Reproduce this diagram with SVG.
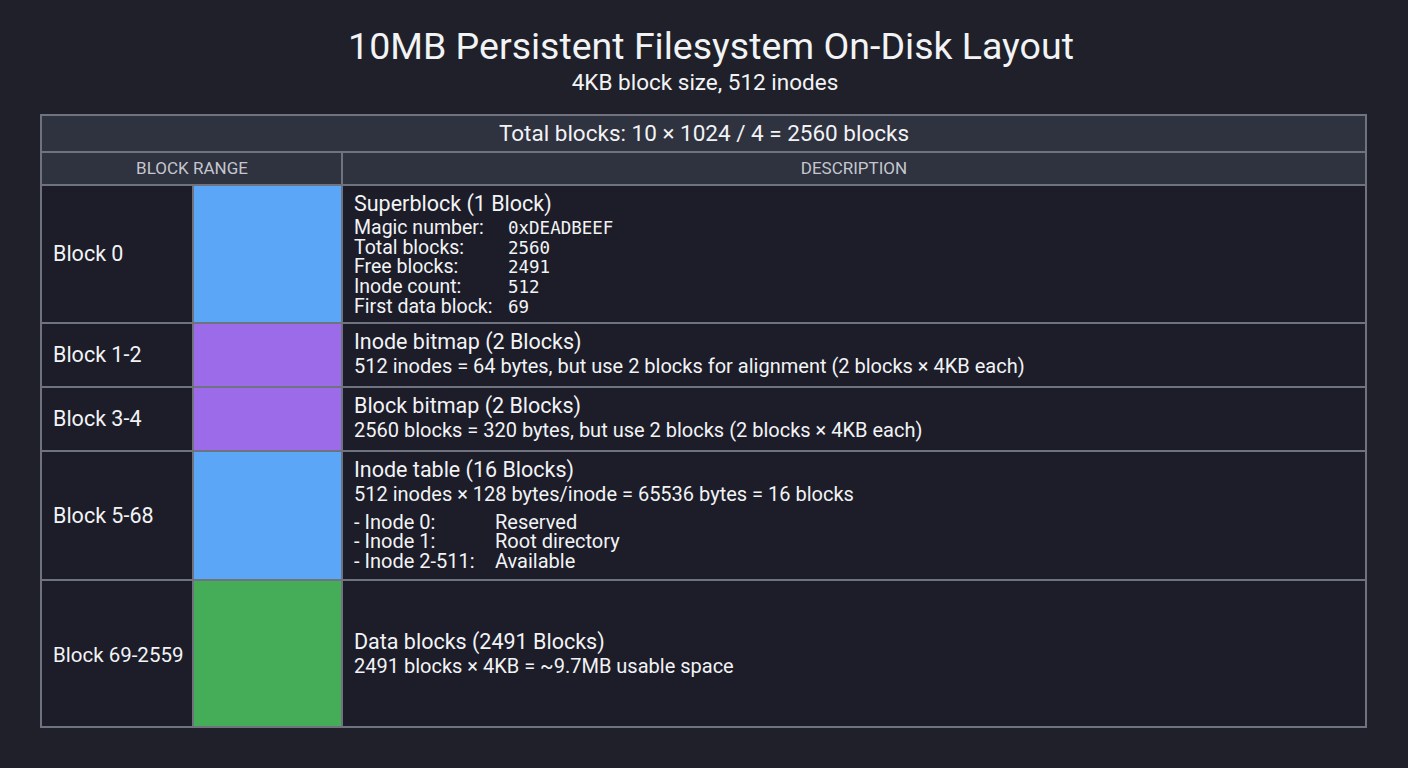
<svg xmlns="http://www.w3.org/2000/svg" width="1408" height="768" viewBox="0 0 1408 768">
<style>
text{font-family:Roboto,"Liberation Sans",sans-serif;fill:#f2f3f5}
.title{font-size:37.5px}
.sub{font-size:22.5px}
.tot{font-size:22.5px}
.hdr{font-size:17px;fill:#c4c7ce}
.big{font-size:21.5px}
.lbl{font-size:21.5px}
.txt{font-size:20px}
.fld{font-size:19.5px}
.sm{font-size:20.5px}
.mono{font-family:"DejaVu Sans Mono","Liberation Mono",monospace;font-size:17.5px}
.line{stroke:#6e737f;stroke-width:2;fill:none}
</style>
<rect width="1408" height="768" fill="#1f2029"/>
<g id="title">
<text class="title" x="711" y="59" text-anchor="middle">10MB Persistent Filesystem On-Disk Layout</text>
<text class="sub" x="705" y="90" text-anchor="middle">4KB block size, 512 inodes</text>
</g>
<g id="table">
<rect x="41" y="115" width="1325" height="70" fill="#2f323f"/>
<rect x="41" y="185" width="1325" height="542" fill="#1c1d29"/>
<rect x="193" y="185" width="149" height="138" fill="#5ba6f6"/>
<rect x="193" y="323" width="149" height="64" fill="#9c6bea"/>
<rect x="193" y="387" width="149" height="64" fill="#9c6bea"/>
<rect x="193" y="451" width="149" height="129" fill="#5ba6f6"/>
<rect x="193" y="580" width="149" height="147" fill="#45ad58"/>
<path class="line" d="M41 152H1366M41 185H1366M41 323H1366M41 387H1366M41 451H1366M41 580H1366M342 152V727M193 185V727"/>
<rect class="line" x="41" y="115" width="1325" height="612"/>
<text class="tot" x="704" y="141" text-anchor="middle">Total blocks: 10 × 1024 / 4 = 2560 blocks</text>
<text class="hdr" x="192" y="174" text-anchor="middle">BLOCK RANGE</text>
<text class="hdr" x="854" y="174" text-anchor="middle">DESCRIPTION</text>
</g>
<g id="row-superblock">
<text class="lbl" x="53" y="261">Block 0</text>
<text class="big" x="354" y="211">Superblock (1 Block)</text>
<text class="fld" x="354" y="234">Magic number:</text>
<text class="fld" x="354" y="254">Total blocks:</text>
<text class="fld" x="354" y="273">Free blocks:</text>
<text class="fld" x="354" y="293">Inode count:</text>
<text class="fld" x="354" y="313">First data block:</text>
<text class="mono" x="508" y="234">0xDEADBEEF</text>
<text class="mono" x="508" y="254">2560</text>
<text class="mono" x="508" y="273">2491</text>
<text class="mono" x="508" y="293">512</text>
<text class="mono" x="508" y="313">69</text>
</g>
<g id="row-inode-bitmap">
<text class="lbl" x="53" y="362">Block 1-2</text>
<text class="big" x="354" y="349">Inode bitmap (2 Blocks)</text>
<text class="txt" x="354" y="373">512 inodes = 64 bytes, but use 2 blocks for alignment (2 blocks × 4KB each)</text>
</g>
<g id="row-block-bitmap">
<text class="lbl" x="53" y="426">Block 3-4</text>
<text class="big" x="354" y="413">Block bitmap (2 Blocks)</text>
<text class="txt" x="354" y="437">2560 blocks = 320 bytes, but use 2 blocks (2 blocks × 4KB each)</text>
</g>
<g id="row-inode-table">
<text class="lbl" x="53" y="523">Block 5-68</text>
<text class="big" x="354" y="477">Inode table (16 Blocks)</text>
<text class="txt" x="354" y="501">512 inodes × 128 bytes/inode = 65536 bytes = 16 blocks</text>
<text class="txt" x="354" y="529">- Inode 0:</text>
<text class="txt" x="354" y="548">- Inode 1:</text>
<text class="txt" x="354" y="568">- Inode 2-511:</text>
<text class="txt" x="495" y="529">Reserved</text>
<text class="txt" x="495" y="548">Root directory</text>
<text class="txt" x="495" y="568">Available</text>
</g>
<g id="row-data">
<text class="sm" x="53" y="662">Block 69-2559</text>
<text class="big" x="354" y="649">Data blocks (2491 Blocks)</text>
<text class="txt" x="354" y="673">2491 blocks × 4KB = ~9.7MB usable space</text>
</g>
</svg>
